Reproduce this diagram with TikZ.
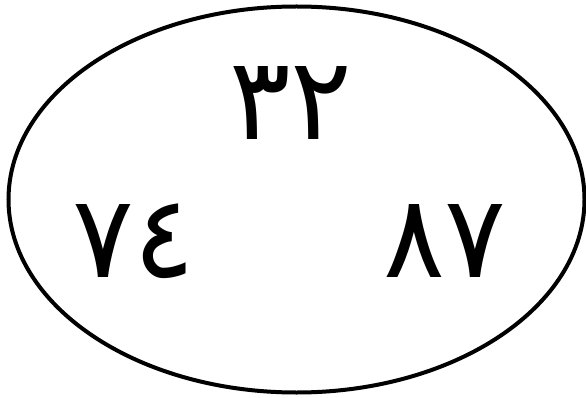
\documentclass[tikz,border=0pt]{standalone}
\usepackage{fontspec}
\usetikzlibrary{shapes.geometric}
\newfontfamily\arabicfont{DejaVu Sans}
\begin{document}
\begin{tikzpicture}[x=1pt,y=-1pt,
  digits/.style={font=\arabicfont\fontsize{115}{120}\selectfont, inner sep=0pt, anchor=base}]
\useasboundingbox (0,0) rectangle (586,398);
\node[draw, line width=4pt, ellipse, minimum width=576pt, minimum height=386pt, inner sep=0pt] (ell) at (296.5,199.5) {};
\node[digits] (top) at (291,140) {٣٢};
\node[digits] (left) at (134,277) {٧٤};
\node[digits] (right) at (445,277) {٨٧};
\end{tikzpicture}
\end{document}
